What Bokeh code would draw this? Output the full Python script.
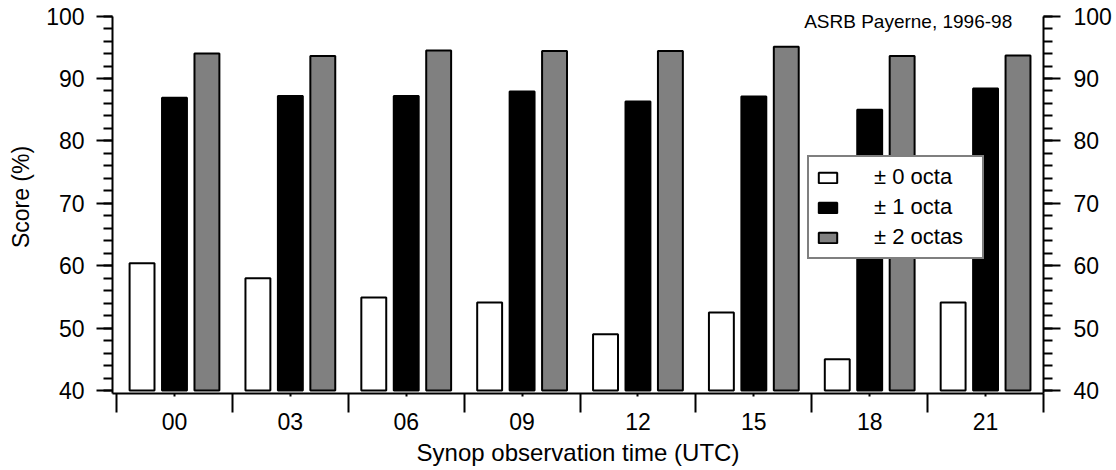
from bokeh.plotting import figure
from bokeh.models import (Range1d, FixedTicker, SingleIntervalTicker, LinearAxis,
                          Legend, LegendItem, Label)
from bokeh.embed import file_html
from bokeh.resources import INLINE

# ---- data ----
times = ["00", "03", "06", "09", "12", "15", "18", "21"]
score_0_octa = [60.4, 58.0, 54.9, 54.1, 49.0, 52.5, 45.0, 54.1]
score_1_octa = [86.9, 87.2, 87.2, 87.9, 86.3, 87.1, 85.0, 88.4]
score_2_octas = [94.0, 93.6, 94.5, 94.4, 94.4, 95.1, 93.6, 93.7]
series_labels = ["± 0 octa", "± 1 octa", "± 2 octas"]
annotation = "ASRB Payerne, 1996-98"
x_title = "Synop observation time (UTC)"
y_title = "Score (%)"

FONT = "Liberation Sans"
x = list(range(len(times)))
offset = 0.28
bar_w = 0.215
base = 40
y_lo, y_hi = 39.52, 100

p = figure(width=1116, height=470, output_backend="svg", toolbar_location=None,
           x_range=Range1d(-0.535, 7.5), y_range=Range1d(y_lo, 102.5),
           min_border_left=112, min_border_right=73, min_border_top=0,
           min_border_bottom=77)
p.outline_line_color = None
p.xgrid.visible = False
p.ygrid.visible = False
p.background_fill_color = "white"
p.border_fill_color = "white"

r0 = p.vbar(x=[v - offset for v in x], top=score_0_octa, bottom=base, width=bar_w,
            fill_color="white", line_color="black", line_width=2)
r1 = p.vbar(x=x, top=score_1_octa, bottom=base, width=bar_w,
            fill_color="black", line_color="black", line_width=2)
r2 = p.vbar(x=[v + offset for v in x], top=score_2_octas, bottom=base, width=bar_w,
            fill_color="#808080", line_color="black", line_width=2)

# x axis
xa = p.xaxis[0]
xa.ticker = FixedTicker(ticks=x, minor_ticks=[v - 0.5 for v in x] + [x[-1] + 0.5])
xa.major_label_overrides = {i: t for i, t in zip(x, times)}
xa.major_tick_out = 3
xa.major_tick_in = 0
xa.minor_tick_out = 19
xa.minor_tick_in = 0
xa.major_tick_line_width = 2
xa.minor_tick_line_width = 2
xa.axis_line_width = 2
xa.major_label_standoff = 0
xa.major_label_text_font = FONT
xa.major_label_text_font_size = "23px"
xa.major_label_text_color = "black"
xa.axis_label = x_title
xa.axis_label_text_font = FONT
xa.axis_label_text_font_size = "24px"
xa.axis_label_text_font_style = "normal"
xa.axis_label_text_color = "black"
xa.axis_label_standoff = 6


def style_y(ax):
    ax.ticker = SingleIntervalTicker(interval=10, num_minor_ticks=5)
    ax.bounds = (y_lo, y_hi)
    ax.major_tick_out = 16
    ax.major_tick_in = 0
    ax.minor_tick_out = 9
    ax.minor_tick_in = 0
    ax.major_tick_line_width = 2
    ax.minor_tick_line_width = 2
    ax.axis_line_width = 2
    ax.major_label_standoff = 12
    ax.major_label_text_font = FONT
    ax.major_label_text_font_size = "23px"
    ax.major_label_text_color = "black"


ya = p.yaxis[0]
style_y(ya)
ya.axis_label = y_title
ya.axis_label_text_font = FONT
ya.axis_label_text_font_size = "23px"
ya.axis_label_text_font_style = "normal"
ya.axis_label_text_color = "black"
ya.axis_label_standoff = 9

yr = LinearAxis()
style_y(yr)
yr.major_label_standoff = 13
yr.major_tick_out = 17
p.add_layout(yr, "right")

# legend
legend = Legend(items=[LegendItem(label=lab, renderers=[r])
                       for lab, r in zip(series_labels, [r0, r1, r2])],
                location=(695, 134))
legend.border_line_color = "black"
legend.border_line_width = 2
legend.background_fill_color = "white"
legend.background_fill_alpha = 1
legend.label_text_font = FONT
legend.label_text_font_size = "22px"
legend.label_text_color = "black"
legend.glyph_width = 23
legend.glyph_height = 13
legend.label_standoff = 35
legend.padding = 7
legend.spacing = 4
legend.label_height = 24
legend.label_width = 101
legend.margin = 0
p.add_layout(legend, "center")

# annotation
p.add_layout(Label(x=7.23, y=99.2, text=annotation, text_align="right",
                   text_baseline="alphabetic", text_font=FONT,
                   text_font_size="19px", text_color="black"))

open("out.html", "w").write(file_html(p, INLINE))
